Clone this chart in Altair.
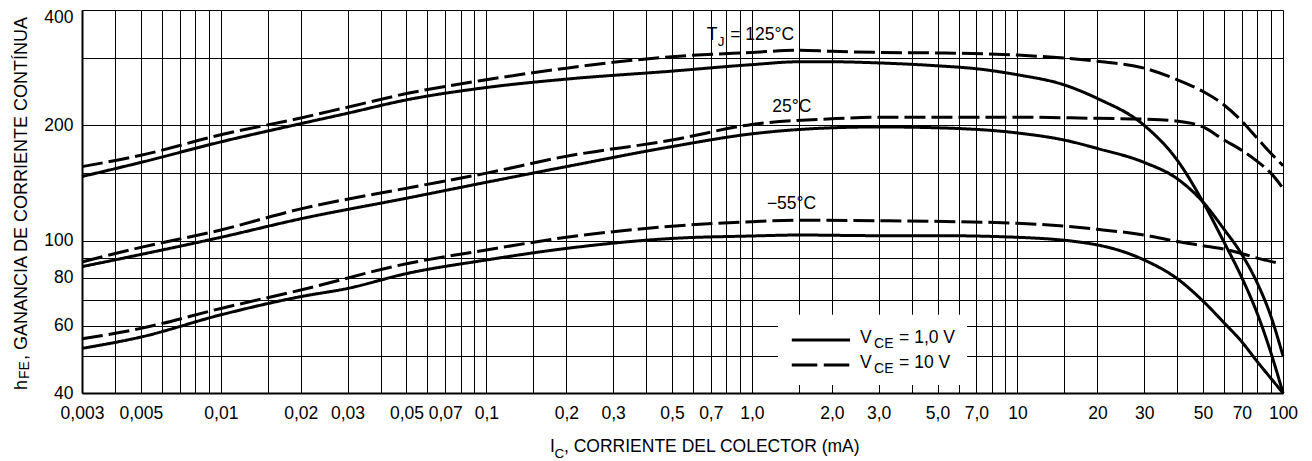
import altair as alt
import pandas as pd

FONT = "Liberation Sans, Arial, Helvetica, sans-serif"

# ---- curve data (I_C in mA, hFE) ----
I_125_1 = [0.003, 0.005, 0.01, 0.02, 0.03, 0.05, 0.1, 0.2, 0.5, 1.0, 1.5, 2.0, 3.0, 5.0, 7.0, 10, 15, 20, 30, 40, 50, 60, 70, 80, 90, 100]
H_125_1 = [147, 160, 181, 202, 215, 233, 251, 264, 277, 288, 293, 293, 291, 286, 281, 271, 255, 235, 200, 162, 126, 99, 80, 64.5, 51, 40]

I_125_10 = [0.003, 0.005, 0.01, 0.02, 0.03, 0.05, 0.1, 0.2, 0.3, 0.5, 1.0, 1.5, 2.0, 3.0, 5.0, 10, 20, 30, 40, 50, 60, 70, 80, 90, 100]
H_125_10 = [156, 167, 189, 209, 223, 242, 263, 282, 292, 302, 310, 314, 312, 310, 309, 305, 294, 282, 263, 245, 226, 205, 185, 169, 157]

I_25_1 = [0.003, 0.005, 0.01, 0.02, 0.05, 0.1, 0.2, 0.5, 1.0, 2.0, 3.0, 5.0, 10, 15, 20, 30, 40, 50, 60, 70, 80, 90, 100]
H_25_1 = [85.5, 92, 102, 114, 129, 142, 156, 176, 190, 197, 198, 197, 191, 183, 174, 160, 145, 126, 107, 92, 77.5, 63.5, 50]

I_25_10 = [0.003, 0.005, 0.01, 0.02, 0.05, 0.1, 0.2, 0.5, 1.0, 2.0, 3.0, 5.0, 10, 20, 30, 40, 50, 60, 70, 80, 90, 100]
H_25_10 = [88, 96, 106.6, 121, 137, 150, 166, 183, 201, 208, 210, 210, 210, 208.5, 207.5, 205, 198, 183, 172, 161, 150, 137]

I_m55_1 = [0.003, 0.005, 0.01, 0.02, 0.03, 0.05, 0.1, 0.2, 0.5, 1.0, 1.5, 3.0, 5.0, 10, 20, 30, 40, 50, 60, 70, 80, 90, 100]
H_m55_1 = [52.3, 56, 64, 71.4, 75, 82, 89, 95.4, 101.3, 102.8, 103.4, 103, 103, 102, 97.4, 89, 79.5, 69.5, 61, 54.4, 48.3, 43.7, 40]

I_m55_10 = [0.003, 0.005, 0.01, 0.02, 0.05, 0.1, 0.2, 0.5, 1.0, 1.5, 3.0, 10, 20, 30, 40, 50, 60, 70, 80, 95]
H_m55_10 = [55.4, 59, 66.5, 74.3, 87, 94.5, 102, 109, 112, 113, 112.7, 111, 107, 103.4, 99.5, 97, 95, 92.5, 90, 87.5]

# ---- axes ----
X_GRID = [0.003, 0.004, 0.005, 0.006, 0.007, 0.008, 0.009,
          0.01, 0.015, 0.02, 0.03, 0.04, 0.05, 0.06, 0.07, 0.08, 0.09,
          0.1, 0.15, 0.2, 0.3, 0.4, 0.5, 0.6, 0.7, 0.8, 0.9,
          1, 1.5, 2, 3, 4, 5, 6, 7, 8, 9,
          10, 15, 20, 30, 40, 50, 60, 70, 80, 90, 100]
X_LABEL_VALUES = [0.003, 0.005, 0.01, 0.02, 0.03, 0.05, 0.07, 0.1, 0.2, 0.3, 0.5, 0.7,
                  1, 2, 3, 5, 7, 10, 20, 30, 50, 70, 100]
X_LABEL_TEXT = ["0,003", "0,005", "0,01", "0,02", "0,03", "0,05", "0,07", "0,1", "0,2", "0,3", "0,5", "0,7",
                "1,0", "2,0", "3,0", "5,0", "7,0", "10", "20", "30", "50", "70", "100"]

Y_GRID = [40, 50, 60, 70, 80, 90, 100, 150, 200, 300, 400]
Y_LABEL_VALUES = [40, 60, 80, 100, 200, 400]
Y_LABEL_TEXT = ["40", "60", "80", "100", "200", "400"]

# ---- annotations ----
TEMP_LABEL_I = [1.413, 1.41]
TEMP_LABEL_H = [216.7, 120.9]
TEMP_LABEL_TEXT = ["25°C", "\u221255°C"]
TJ_I, TJ_H = 0.676, 334

LEGEND_BOX_I = [1.2546, 6.46]
LEGEND_BOX_H = [42.0, 64.0]
LEGEND_LINE_I = [1.413, 2.342]
LEGEND_ROW_H = [55.0, 47.3]
LEGEND_TEXT_I = 2.555
LEGEND_TEXT = ["= 1,0 V", "= 10 V"]

FS = 17.5


def label_expr(vals, texts):
    parts = [f"abs(datum.value-{v})<{v}*1e-6 ? '{t}'" for v, t in zip(vals, texts)]
    return " : ".join(parts) + " : ''"


rows = []
for temp, vce, I, H in [
    ("125", "1", I_125_1, H_125_1), ("125", "10", I_125_10, H_125_10),
    ("25", "1", I_25_1, H_25_1), ("25", "10", I_25_10, H_25_10),
    ("-55", "1", I_m55_1, H_m55_1), ("-55", "10", I_m55_10, H_m55_10),
]:
    for i, h in zip(I, H):
        rows.append({"I": i, "h": h, "series": temp + "_" + vce, "vce": vce})
curves = pd.DataFrame(rows)

xscale = alt.Scale(type="log", domain=[0.003, 100], nice=False)
yscale = alt.Scale(type="log", domain=[40, 400], nice=False)

xaxis = alt.Axis(values=X_GRID, labelExpr=label_expr(X_LABEL_VALUES, X_LABEL_TEXT),
                 grid=True, gridColor="#000000", gridWidth=1, gridOpacity=1,
                 ticks=False, domainColor="#000000", domainWidth=2,
                 labelFont=FONT, labelFontSize=FS, labelColor="#000000",
                 labelPadding=11, labelOverlap=False, labelFlush=False, title=None)
yaxis = alt.Axis(values=Y_GRID, labelExpr=label_expr(Y_LABEL_VALUES, Y_LABEL_TEXT),
                 grid=True, gridColor="#000000", gridWidth=1, gridOpacity=1,
                 ticks=False, domainColor="#000000", domainWidth=2,
                 labelFont=FONT, labelFontSize=FS, labelColor="#000000",
                 labelOffset={"condition": {"test": "datum.value > 390", "value": 7}, "value": 0},
                 labelPadding=9, labelOverlap=False, labelFlush=False, title=None)

X = alt.X("I:Q", scale=xscale, axis=xaxis)
Y = alt.Y("h:Q", scale=yscale, axis=yaxis)

lines = alt.Chart(curves).mark_line(color="black", strokeWidth=3, interpolate="monotone").encode(
    x=X, y=Y, detail="series:N",
    strokeDash=alt.StrokeDash("vce:N", scale=alt.Scale(domain=["1", "10"], range=[[1, 0], [21, 6]]), legend=None),
)

box = alt.Chart(pd.DataFrame({"I": [LEGEND_BOX_I[0]], "I2": [LEGEND_BOX_I[1]],
                              "h": [LEGEND_BOX_H[0]], "h2": [LEGEND_BOX_H[1]]})).mark_rect(
    fill="white").encode(x=X, x2="I2:Q", y=Y, y2="h2:Q")

leg_solid = alt.Chart(pd.DataFrame({"I": [LEGEND_LINE_I[0]], "I2": [LEGEND_LINE_I[1]], "h": [LEGEND_ROW_H[0]]})).mark_rule(
    color="black", strokeWidth=3).encode(x=X, x2="I2:Q", y=Y)
leg_dash = alt.Chart(pd.DataFrame({"I": [LEGEND_LINE_I[0]], "I2": [LEGEND_LINE_I[1]], "h": [LEGEND_ROW_H[1]]})).mark_rule(
    color="black", strokeWidth=3, strokeDash=[25.5, 6.5]).encode(x=X, x2="I2:Q", y=Y)

leg_df = pd.DataFrame({"I": [LEGEND_TEXT_I] * 2, "h": LEGEND_ROW_H, "t": LEGEND_TEXT})
leg_v = alt.Chart(leg_df).mark_text(font=FONT, fontSize=FS, align="left", baseline="alphabetic", dy=3, color="black").encode(
    x=X, y=Y, text=alt.value("V"))
leg_ce = alt.Chart(leg_df).mark_text(font=FONT, fontSize=14, align="left", baseline="alphabetic", dx=14, dy=8, color="black").encode(
    x=X, y=Y, text=alt.value("CE"))
leg_rest = alt.Chart(leg_df).mark_text(font=FONT, fontSize=FS, align="left", baseline="alphabetic", dx=39, dy=3, color="black").encode(
    x=X, y=Y, text="t:N")

temp_df = pd.DataFrame({"I": TEMP_LABEL_I, "h": TEMP_LABEL_H, "t": TEMP_LABEL_TEXT})
temp_txt = alt.Chart(temp_df).mark_text(font=FONT, fontSize=FS, align="center", baseline="alphabetic", color="black").encode(
    x=X, y=Y, text="t:N")

tj_df = pd.DataFrame({"I": [TJ_I], "h": [TJ_H]})
tj_t = alt.Chart(tj_df).mark_text(font=FONT, fontSize=FS, align="left", baseline="alphabetic", color="black").encode(
    x=X, y=Y, text=alt.value("T"))
tj_j = alt.Chart(tj_df).mark_text(font=FONT, fontSize=13.5, align="left", baseline="alphabetic", dx=11, dy=6.5, color="black").encode(
    x=X, y=Y, text=alt.value("J"))
tj_rest = alt.Chart(tj_df).mark_text(font=FONT, fontSize=FS, align="left", baseline="alphabetic", dx=23.5, color="black").encode(
    x=X, y=Y, text=alt.value("= 125°C"))


def ptext(txt, px, py, size, angle=0):
    kw = dict(font=FONT, fontSize=size, align="left", baseline="alphabetic", color="black")
    if angle:
        kw["angle"] = angle
    return alt.Chart(pd.DataFrame({"t": [txt]})).mark_text(**kw).encode(
        x=alt.value(px), y=alt.value(py), text="t:N")


# axis titles (with subscripts), positioned relative to plot area
xt1 = ptext("I", 468, 442, FS)
xt2 = ptext("C", 472.5, 448, 13.5)
xt3 = ptext(", CORRIENTE DEL COLECTOR (mA)", 482, 442, FS)
yt1 = ptext("h", -55, 380, 18, 270)
yt2 = ptext("FE", -53, 369, 14, 270)
yt3 = ptext(", GANANCIA DE CORRIENTE CONTÍNUA", -55, 350, 18, 270)

chart = alt.layer(
    box, lines, leg_solid, leg_dash, leg_v, leg_ce, leg_rest, temp_txt, tj_t, tj_j, tj_rest,
    xt1, xt2, xt3, yt1, yt2, yt3,
).properties(
    width=1201, height=383,
    autosize=alt.AutoSizeParams(type="none"),
    padding={"left": 74, "top": 2, "right": 21, "bottom": 68},
).configure_view(stroke="black", strokeWidth=1).configure(background="white")

chart.save("out.html", embed_options={"renderer": "svg", "actions": False})
